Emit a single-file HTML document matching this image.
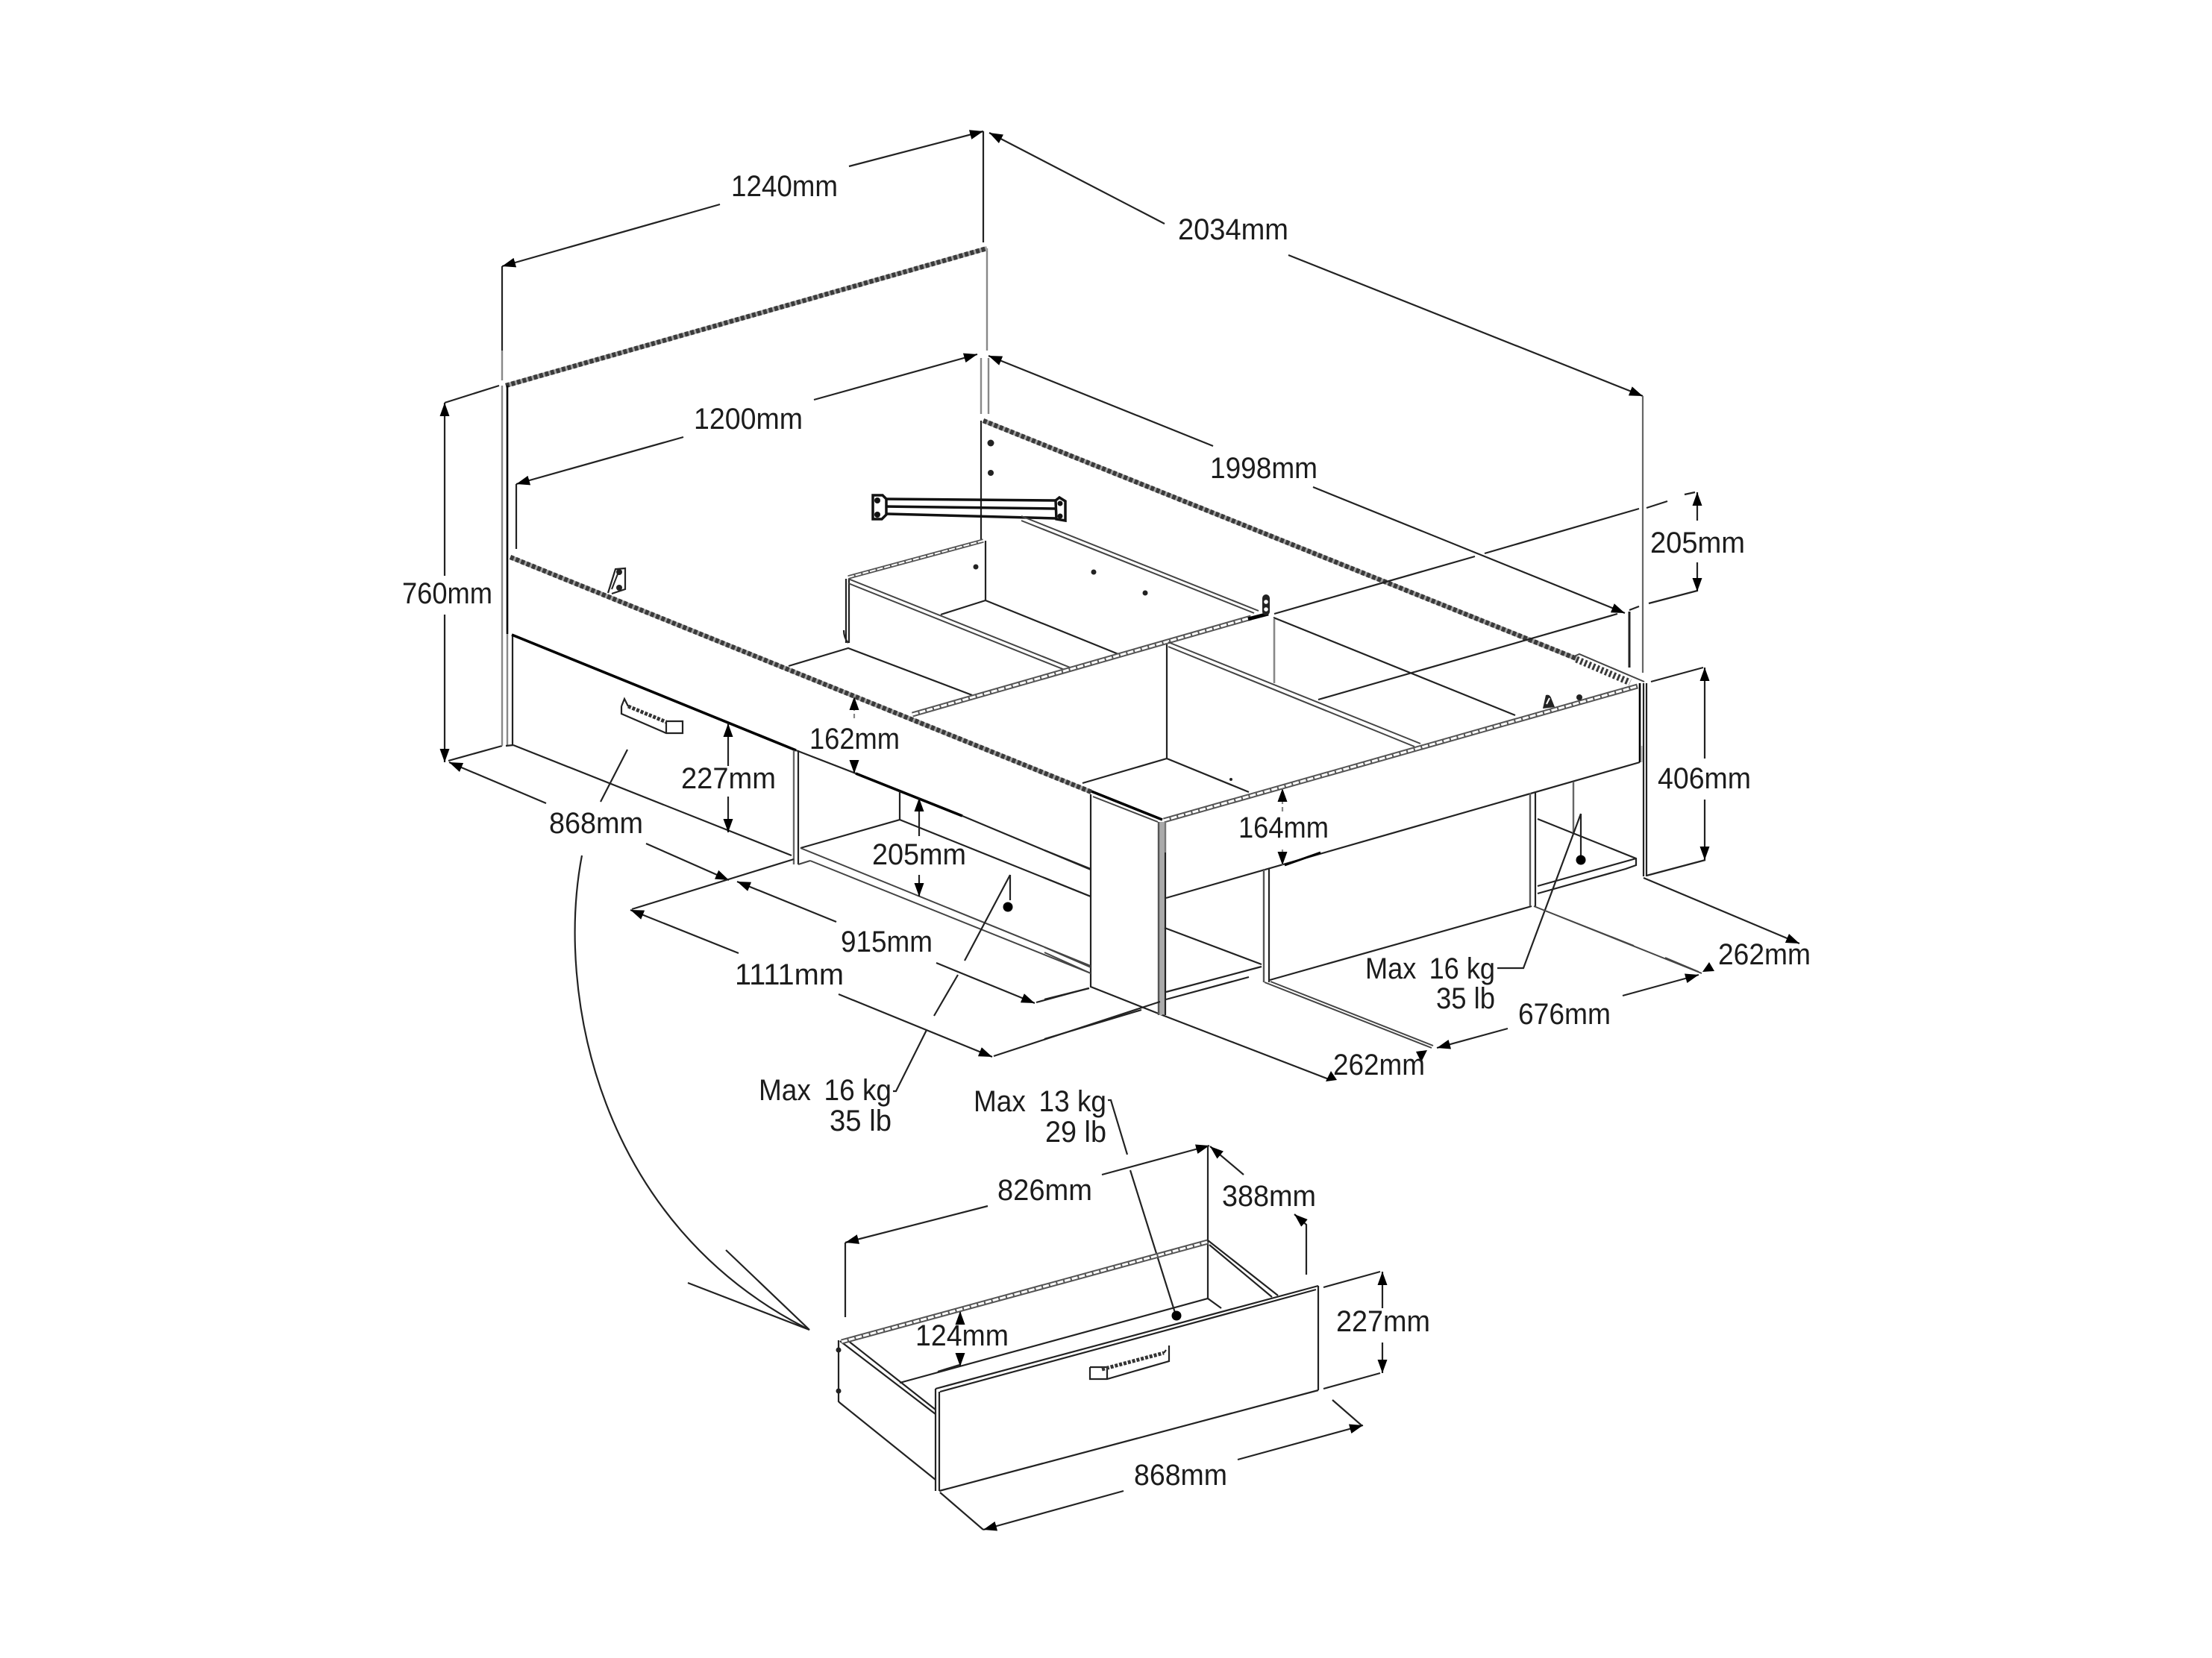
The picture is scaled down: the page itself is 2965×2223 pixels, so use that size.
<!DOCTYPE html>
<html><head><meta charset="utf-8"><title>Bed dimensions</title>
<style>
html,body{margin:0;padding:0;background:#fff}
svg{display:block}
text{font-family:"Liberation Sans",sans-serif;font-size:40px;fill:#1c1c1c}
.l{stroke:#222;stroke-width:2.2;fill:none}
.g{stroke:#888;stroke-width:2.4;fill:none}
.k{stroke:#000;stroke-width:3.6;fill:none}
.r{stroke:#444;stroke-width:2;fill:none}
.h{fill:none;stroke:#3a3a3a;stroke-width:6.5;stroke-dasharray:5 2.8}
.hb{fill:none;stroke:#a0a0a0;stroke-width:6}
.bo{fill:none;stroke:#555;stroke-width:7}
.bi{fill:none;stroke:#fff;stroke-width:3;stroke-dasharray:8 2}
</style></head><body>
<svg width="2965" height="2223" viewBox="0 0 2965 2223" xmlns="http://www.w3.org/2000/svg">
<defs>
<marker id="a" viewBox="0 0 10 10" refX="10" refY="5" markerWidth="18" markerHeight="13" markerUnits="userSpaceOnUse" orient="auto-start-reverse" preserveAspectRatio="none"><path d="M0 0L10 5L0 10z" fill="#000"/></marker>
</defs>
<rect width="2965" height="2223" fill="#fff"/>

<!-- overall dimensions -->
<g class="l">
<path d="M965 274L673 357" marker-end="url(#a)"/>
<path d="M1138 223L1318 176" marker-end="url(#a)"/>
<path d="M673 357V470"/><path d="M1318 176V325"/>
<path d="M1561 300L1326 178" marker-end="url(#a)"/>
<path d="M1727 342L2202 531" marker-end="url(#a)"/>
<path d="M2202 531V902" style="stroke:#666"/>
<path d="M916 586L692 649" marker-end="url(#a)"/>
<path d="M692 649V736"/>
<path d="M1091 536L1310 475" marker-end="url(#a)"/>
<path d="M1626 598L1325 477" marker-end="url(#a)"/>
<path d="M1760 653L2178 822" marker-end="url(#a)"/>
<path d="M2184 820V895" style="stroke-width:3"/>
<!-- 760 -->
<path d="M669 517L596 540"/>
<path d="M596 772V540" marker-end="url(#a)"/>
<path d="M596 824V1022" marker-end="url(#a)"/>
<path d="M601 1020L673 1000"/>
<path d="M732 1077L602 1022" marker-end="url(#a)"/>
<path d="M866 1131L977 1180" marker-end="url(#a)"/>
<path d="M841 1005L805 1075"/>
</g>
<g class="g">
<path d="M673 470V510"/>
<path d="M1323 333V470"/>
<path d="M1315 480V555"/><path d="M1325 480V555"/>
</g>

<!-- headboard -->
<path class="hb" d="M678 517L1323 333"/>
<path class="h" d="M678 517L1323 333"/>
<path class="g" d="M673 517V1000M680 850V1000"/>
<path class="k" d="M680 517V850" style="stroke-width:2.6"/>
<path class="l" d="M687 852V1000"/>

<!-- back side rail -->
<path class="hb" d="M1318 564L2113 883"/>
<path class="h" d="M1318 564L2113 883"/>
<path class="h" d="M2113 884L2185 915" style="stroke-width:9;stroke-dasharray:3 3"/>
<path class="r" d="M2110 880L2117 877L2204 914"/>
<path class="l" d="M1315 564V725"/>
<circle cx="1328" cy="594" r="4.5" fill="#222"/><circle cx="1328" cy="634" r="4" fill="#222"/>

<!-- bracket -->
<g>
<path d="M1186 669L1415 671M1183 679L1415 682M1189 689L1415 695" stroke="#111" stroke-width="3.5" fill="none"/>
<path d="M1170 664H1183L1188 669V690L1182 696H1170Z" fill="#fff" stroke="#111" stroke-width="3.5"/>
<path d="M1415 671L1420 667L1428 672V698L1416 696Z" fill="#fff" stroke="#111" stroke-width="3.5"/>
<circle cx="1176" cy="671" r="4" fill="#111"/><circle cx="1176" cy="690" r="4" fill="#111"/>
<circle cx="1421" cy="675" r="3.5" fill="#111"/><circle cx="1421" cy="692" r="3.5" fill="#111"/>
</g>

<!-- inner back rail -->
<path class="r" d="M1369 692L1687 819M1369 698L1681 822"/>
<circle cx="1466" cy="767" r="3.5" fill="#222"/><circle cx="1535" cy="795" r="3.5" fill="#222"/>

<!-- storage box -->
<path class="bo" d="M1137 774L1318 725" style="stroke-width:5.5"/>
<path class="bi" d="M1137 774L1318 725" style="stroke-width:2"/>
<path class="l" d="M1321 725V805M1134 776V862M1138 776V862"/>
<circle cx="1308" cy="760" r="3.5" fill="#222"/>
<path class="r" d="M1137 776L1437 896M1137 782L1432 900"/>
<path class="l" d="M1261 824L1321 805L1504 879"/>
<path class="l" d="M1057 893L1137 869L1303 932"/>
<path class="l" d="M1131 845Q1131 855 1137 862"/>

<!-- long cross rail -->
<path class="bo" d="M1223 958L1677 828"/>
<path class="bi" d="M1223 958L1677 828"/>
<path class="k" d="M1673 830L1700 823" style="stroke-width:5"/>
<rect x="1692" y="797" width="10" height="28" rx="5" fill="#222"/>
<circle cx="1697" cy="807" r="2.8" fill="#fff"/><circle cx="1697" cy="817" r="2.8" fill="#fff"/>
<path class="l" d="M1708 823L1977 746M1990 742L2197 682M2207 681L2235 672M2258 663L2272 660"/>
<path class="l" d="M2168 823L1767 938M2197 813L2184 818"/>
<path class="l" d="M2275 792L2210 809"/>
<!-- 205 top right -->
<path class="l" d="M2275 698V660" marker-end="url(#a)"/>
<path class="l" d="M2275 754V793" marker-end="url(#a)"/>

<!-- compartments -->
<path class="l" d="M1707 828L2031 959"/>
<path class="g" d="M1708 830V916" style="stroke-width:2.6"/>
<path class="r" d="M1566 861L1904 997M1566 867L1896 1001"/>
<path class="l" d="M1564 864V1017M1674 1062L1564 1017L1451 1050"/>
<circle cx="1650" cy="1045" r="2" fill="#222"/>

<!-- front top double rail -->
<path class="bo" d="M1560 1100L2195 920"/>
<path class="bi" d="M1560 1100L2195 920"/>
<path d="M2068 950L2072 932Q2078 930 2080 938L2084 948Z" fill="#222"/>
<path d="M2073 944L2077 936" stroke="#fff" stroke-width="2"/>
<circle cx="2117" cy="935" r="4" fill="#222"/>

<!-- main foot-end hatched rail -->
<path class="hb" d="M684 747L1463 1062"/>
<path class="h" d="M684 747L1463 1062"/>
<path class="k" d="M1463 1061L1558 1099"/>
<path class="r" d="M1465 1068L1552 1102"/>
<!-- hinge -->
<path d="M815 795L825 763L838 762V790L820 796" fill="#fff" stroke="#222" stroke-width="2.2"/>
<path d="M820 790L829 767" stroke="#222" stroke-width="2"/>
<circle cx="830" cy="767" r="4" fill="#222"/><circle cx="830" cy="788" r="4" fill="#222"/>

<!-- end leg -->
<path class="l" d="M1462 1065V1323L1558 1361"/>
<path d="M1557.5 1102V1361" stroke="#aaa" stroke-width="7"/>
<path class="g" d="M1553 1102V1361" style="stroke:#555"/>
<path class="g" d="M1562 1102V1143" style="stroke:#777"/>
<path class="l" d="M1562 1143V1361"/>

<!-- front board -->
<path class="l" d="M1563 1204L2198 1022"/>
<path class="k" d="M1722 1160L1770 1143" style="stroke-width:2.8"/>
<path class="g" d="M1694 1165V1317" style="stroke:#555"/>
<path class="l" d="M1701 1165V1317"/>
<path class="l" d="M1561 1244L1691 1293"/>
<path class="l" d="M1563 1330L1691 1296M1563 1340L1674 1310"/>
<path class="l" d="M1702 1314L2053 1215"/>
<path class="g" d="M2051 1063V1215" style="stroke:#555"/>
<path class="l" d="M2058 1063V1215"/>
<path class="l" d="M2061 1098L2193 1151V1160L2179 1165L2061 1198M2061 1188L2193 1151"/>
<path class="g" d="M2109 1048V1117" style="stroke:#666"/>
<path class="l" d="M2119 1091V1147"/>
<circle cx="2119" cy="1153" r="6.5" fill="#000"/>
<path class="l" d="M2119 1091L2042 1298H2007"/>
<path class="k" d="M2198 916V1022" style="stroke-width:2.6"/>
<path class="l" d="M2203 916V1175M2207 916V1175"/>
<path class="g" d="M2200.5 1000V1022" style="stroke:#bbb"/>
<path class="l" d="M2207 1174L2286 1153M2213 914L2283 895"/>
<path class="l" d="M2285 1017V895" marker-end="url(#a)"/>
<path class="l" d="M2285 1072V1153" marker-end="url(#a)"/>
<path class="l" d="M2203 1177L2412 1265" marker-end="url(#a)"/>
<path class="l" d="M2175 1335L2277 1307" marker-end="url(#a)"/>
<path class="l" d="M2021 1379L1926 1405" marker-end="url(#a)"/>
<polygon points="2282,1303 2298,1302 2291,1290" fill="#000"/>
<path class="r" d="M2056 1215L2281 1305M2066 1219L2190 1268M2232 1284L2277 1303"/>
<path class="r" d="M1695 1317L1919 1405M1703 1316L1921 1402"/>
<path class="l" d="M1558 1361L1781 1447"/>
<polygon points="1905,1424 1913,1408 1898,1410" fill="#000"/>
<polygon points="1777,1450 1792,1448 1784,1436" fill="#000"/>
<path class="l" d="M1400 1393L1530 1354M1400 1340L1460 1325"/>
<path class="l" d="M1400 1140L1462 1165M1400 1177L1462 1202"/>
<path class="r" d="M1400 1270L1462 1297M1400 1277L1462 1305"/>

<!-- foot-side lower -->
<path class="k" d="M686 851L1067 1006"/>
<path class="l" d="M1067 1006L1147 1037"/>
<path class="k" d="M1147 1037L1290 1094"/>
<path class="l" d="M1290 1094L1462 1166"/>
<path class="l" d="M688 999L1061 1147M678 1000L688 999"/>
<path class="l" d="M1070 1006V1159"/>
<path class="g" d="M1064 1006V1159" style="stroke:#666"/>
<path class="l" d="M1206 1061V1099L1073 1137M1206 1099L1462 1202"/>
<path class="r" d="M1073 1137L1462 1295M1086 1154L1462 1305M1070 1159L1086 1154"/>
<path class="l" d="M847 1219L1064 1152"/>

<!-- drawer handle bed -->
<path class="l" d="M833 947L837 937L842 947M833 947V957L893 983H915V967H893"/>
<path class="l" d="M893 968V983"/>
<path d="M842 947L893 968" stroke="#333" stroke-width="5" stroke-dasharray="4 2" fill="none"/>

<!-- inner dims -->
<g class="l">
<path d="M976 1027V970" marker-end="url(#a)"/>
<path d="M976 1068V1116" marker-end="url(#a)"/>
<path d="M1145 963V934" marker-end="url(#a)" style="stroke-dasharray:6 4;stroke:#888"/>
<path d="M1145 1020V1037" marker-end="url(#a)"/>
<path d="M1232 1121V1070" marker-end="url(#a)"/>
<path d="M1232 1173V1202" marker-end="url(#a)"/>
<path d="M1719 1088V1057" marker-end="url(#a)" style="stroke-dasharray:6 4;stroke:#888"/>
<path d="M1719 1139V1160" marker-end="url(#a)" style="stroke-dasharray:6 4;stroke:#888"/>
<!-- 915 / 1111 -->
<path d="M1121 1236L988 1182" marker-end="url(#a)"/>
<path d="M1255 1291L1387 1345" marker-end="url(#a)"/>
<path d="M1389 1344L1459 1325"/>
<path d="M990 1278L845 1220" marker-end="url(#a)"/>
<path d="M1124 1333L1330 1417" marker-end="url(#a)"/>
<path d="M1332 1416L1555 1343"/>
<!-- load leader -->
<path d="M1354 1173V1207"/>
<path d="M1354 1173L1293 1288M1284 1307L1252 1362M1242 1381L1201 1463H1197"/>
</g>
<circle cx="1351" cy="1216" r="6.5" fill="#000"/>

<!-- curve -->
<path class="l" d="M780 1147C745 1330 800 1640 1085 1783"/>
<path class="l" d="M922 1720L1085 1783M973 1676L1085 1783"/>

<!-- drawer -->
<g class="l">
<path d="M1133 1766V1666"/>
<path d="M1324 1617L1133 1666" marker-end="url(#a)"/>
<path d="M1477 1575L1621 1536" marker-end="url(#a)"/>
<path d="M1619 1536V1741"/>
<path d="M1667 1575L1622 1537" marker-end="url(#a)"/>
<path d="M1751 1709V1642L1735 1628" marker-end="url(#a)"/>
<path d="M1124 1797V1879L1126 1881L1254 1984"/>
<path d="M1206 1854L1619 1741L1637 1754"/>
<path d="M1619 1663L1713 1737M1621 1669L1705 1739"/>
<path d="M1126 1798L1254 1896M1136 1797L1254 1890"/>
<path d="M1254 1862V1999M1259 1866V1999M1767 1724V1864"/>
<path d="M1259 1999L1767 1864"/>
<path d="M1254 1862L1767 1724M1260 1866L1764 1729"/>
<path d="M1461 1833V1849H1484L1567 1825V1804"/>
<path d="M1484 1833V1849M1461 1833H1484"/>
<!-- dims -->
<path d="M1774 1726L1850 1705M1774 1862L1850 1841"/>
<path d="M1853 1754V1705" marker-end="url(#a)"/>
<path d="M1853 1800V1841" marker-end="url(#a)"/>
<path d="M1260 2001L1318 2051"/>
<path d="M1506 1999L1318 2051" marker-end="url(#a)"/>
<path d="M1659 1957L1827 1911" marker-end="url(#a)"/>
<path d="M1786 1877L1825 1911"/>
<path d="M1287 1772V1758" marker-end="url(#a)"/>
<path d="M1287 1816V1832" marker-end="url(#a)"/>
<path d="M1257 1839L1286 1830"/>
<!-- leader -->
<path d="M1485 1475H1489L1511 1548M1515 1569L1575 1760"/>
</g>
<path class="bo" d="M1128 1799L1619 1665" style="stroke-width:7"/>
<path class="bi" d="M1128 1799L1619 1665"/>
<path d="M1477 1836L1560 1814" stroke="#333" stroke-width="5" stroke-dasharray="4 2" fill="none"/>
<path class="l" d="M1563 1810L1560 1814"/>
<circle cx="1577" cy="1764" r="6.5" fill="#000"/>
<circle cx="1124" cy="1810" r="3.5" fill="#222"/><circle cx="1124" cy="1865" r="3.5" fill="#222"/>

<!-- labels -->
<g transform="translate(0,-1)">
<text x="980" y="264" textLength="143" lengthAdjust="spacingAndGlyphs">1240mm</text>
<text x="1579" y="322" textLength="148" lengthAdjust="spacingAndGlyphs">2034mm</text>
<text x="930" y="576" textLength="146" lengthAdjust="spacingAndGlyphs">1200mm</text>
<text x="1622" y="642" textLength="144" lengthAdjust="spacingAndGlyphs">1998mm</text>
<text x="2212" y="742" textLength="127" lengthAdjust="spacingAndGlyphs">205mm</text>
<text x="539" y="810" textLength="121" lengthAdjust="spacingAndGlyphs">760mm</text>
<text x="1085" y="1005" textLength="121" lengthAdjust="spacingAndGlyphs">162mm</text>
<text x="913" y="1058" textLength="127" lengthAdjust="spacingAndGlyphs">227mm</text>
<text x="2222" y="1058" textLength="125" lengthAdjust="spacingAndGlyphs">406mm</text>
<text x="1660" y="1124" textLength="121" lengthAdjust="spacingAndGlyphs">164mm</text>
<text x="736" y="1118" textLength="126" lengthAdjust="spacingAndGlyphs">868mm</text>
<text x="1169" y="1160" textLength="126" lengthAdjust="spacingAndGlyphs">205mm</text>
<text x="1127" y="1277" textLength="123" lengthAdjust="spacingAndGlyphs">915mm</text>
<text x="985" y="1321" textLength="146" lengthAdjust="spacingAndGlyphs">1111mm</text>
<text x="1830" y="1313" textLength="174" lengthAdjust="spacingAndGlyphs">Max &#8201;16 kg</text>
<text x="1925" y="1353" textLength="79" lengthAdjust="spacingAndGlyphs">35 lb</text>
<text x="2035" y="1374" textLength="124" lengthAdjust="spacingAndGlyphs">676mm</text>
<text x="2303" y="1294" textLength="124" lengthAdjust="spacingAndGlyphs">262mm</text>
<text x="1787" y="1442" textLength="123" lengthAdjust="spacingAndGlyphs">262mm</text>
<text x="1017" y="1476" textLength="178" lengthAdjust="spacingAndGlyphs">Max &#8201;16 kg</text>
<text x="1112" y="1517" textLength="83" lengthAdjust="spacingAndGlyphs">35 lb</text>
<text x="1305" y="1491" textLength="178" lengthAdjust="spacingAndGlyphs">Max &#8201;13 kg</text>
<text x="1401" y="1532" textLength="82" lengthAdjust="spacingAndGlyphs">29 lb</text>
<text x="1337" y="1610" textLength="127" lengthAdjust="spacingAndGlyphs">826mm</text>
<text x="1638" y="1618" textLength="126" lengthAdjust="spacingAndGlyphs">388mm</text>
<text x="1791" y="1786" textLength="126" lengthAdjust="spacingAndGlyphs">227mm</text>
<text x="1227" y="1805" textLength="125" lengthAdjust="spacingAndGlyphs">124mm</text>
<text x="1520" y="1992" textLength="125" lengthAdjust="spacingAndGlyphs">868mm</text>
</g>
</svg>
</body></html>
